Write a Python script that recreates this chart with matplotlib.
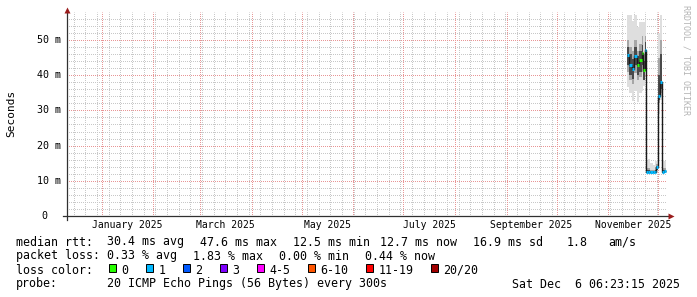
import numpy as np
import pandas as pd
import matplotlib
matplotlib.use("Agg")
import matplotlib.pyplot as plt
import matplotlib.dates as mdates
from matplotlib.patches import Rectangle

W, H = 697, 297

# 360 day window shown by the graph
t_start = pd.Timestamp("2024-12-11 06:23:15")
t_end = pd.Timestamp("2025-12-06 06:23:15")

# samples, values in ms
times = ["2025-11-12 01:00", "2025-11-13 16:00", "2025-11-15 02:00", "2025-11-16 16:00",
         "2025-11-18 02:00", "2025-11-19 16:00", "2025-11-21 02:00", "2025-11-22 02:00",
         "2025-11-22 22:00", "2025-11-23 10:00", "2025-11-24 14:00", "2025-11-26 02:00",
         "2025-11-27 14:00", "2025-11-29 02:00", "2025-11-29 22:00", "2025-12-01 03:00",
         "2025-12-02 08:00", "2025-12-03 13:00", "2025-12-04 18:00"]
t_last = "2025-12-05 12:00"
median_ms = [45.6, 43.0, 41.8, 45.4, 43.0, 44.2, 46.4, 41.6, 47.1, 12.6, 12.5, 12.5,
             12.6, 12.5, 13.8, 34.2, 38.0, 12.6, 12.7]
loss_idx = [1, 1, 1, 1, 0, 0, 0, 0, 1, 1, 1, 1, 1, 1, 1, 1, 1, 1, 1]
outer_lo = [36.6, 34.8, 32.8, 35.6, 32.3, 35.0, 35.6, 37.0, 40.0, 12.2, 12.2, 12.2,
            12.2, 12.2, 12.3, 29.0, 33.0, 12.2, 12.2]
outer_hi = [57.0, 57.0, 55.5, 57.0, 53.6, 55.0, 55.0, 55.0, 56.0, 15.5, 16.3, 15.0,
            14.5, 15.8, 15.5, 52.0, 57.0, 15.8, 15.5]
mid_lo = [41.0, 38.5, 37.5, 40.5, 38.5, 39.5, 41.0, 38.5, 43.0, 12.4, 12.3, 12.3,
          12.4, 12.3, 13.0, 32.0, 35.0, 12.4, 12.4]
mid_hi = [50.0, 48.0, 47.0, 50.0, 47.0, 49.0, 51.0, 46.0, 51.0, 13.5, 13.6, 13.2,
          13.0, 13.8, 14.8, 45.0, 50.0, 13.6, 13.5]
core_lo = [43.0, 40.0, 39.0, 43.0, 40.0, 41.0, 43.0, 38.5, 45.0, 12.4, 12.4, 12.4,
           12.4, 12.4, 13.2, 33.0, 36.0, 12.4, 12.4]
core_hi = [48.0, 46.0, 44.5, 48.0, 45.5, 47.0, 48.5, 44.0, 49.5, 13.0, 13.0, 12.9,
           12.9, 13.0, 14.2, 40.0, 46.0, 13.0, 13.0]

loss_labels = ["0", "1", "2", "3", "4-5", "6-10", "11-19", "20/20"]
loss_colors = ["#26ff00", "#00b8ff", "#0059ff", "#7e00ff", "#ff00ff", "#ff5500",
               "#ff0000", "#a00000"]

y_ticks = [0, 10, 20, 30, 40, 50]
y_tick_labels = ["0", "10 m", "20 m", "30 m", "40 m", "50 m"]
label_months = ["2025-01", "2025-03", "2025-05", "2025-07", "2025-09", "2025-11"]
month_labels = ["January 2025", "March 2025", "May 2025", "July 2025",
                "September 2025", "November 2025"]

rtt_line = ["median rtt:", "30.4 ms avg", "47.6 ms max", "12.5 ms min", "12.7 ms now",
            "16.9 ms sd", "1.8", "am/s"]
loss_line = ["packet loss:", "0.33 % avg", "1.83 % max", "0.00 % min", "0.44 % now"]
probe_line = ["probe:", "20 ICMP Echo Pings (56 Bytes) every 300s"]
stamp = "Sat Dec  6 06:23:15 2025"

# ---------------------------------------------------------------- layout
MONO = "DejaVu Sans Mono"
fig = plt.figure(figsize=(W / 100, H / 100), dpi=100)
fig.patch.set_facecolor("white")


def fx(x):
    return x / W


def fy(y):
    return 1 - y / H


# plot area on whole pixels so the dotted grid lands on the pixel grid
px0, px1, py0, py1 = 67, 667, 216, 12
ax = fig.add_axes([fx(px0), fy(py0), (px1 - px0) / W, (py0 - py1) / H])
ax.set_facecolor("white")
xmin, xmax = mdates.date2num(t_start), mdates.date2num(t_end)
ax.set_xlim(xmin, xmax)
ax.set_ylim(0, 57.95)
for s in ax.spines.values():
    s.set_visible(False)
ax.set_xticks([])
ax.set_yticks([])

# 1px on / 1px off, offset half a pixel because snapping moves the line start
dot = (0.5, (1, 1))
minor_c, major_c = "#c8c8c8", "#e89696"
gkw = dict(lw=0.72, ls=dot, snap=True)
for wk in pd.date_range(t_start, t_end, freq="W-SUN"):
    ax.axvline(mdates.date2num(wk), color=minor_c, zorder=0, **gkw)
for v in range(2, 58, 2):
    if v % 10:
        ax.axhline(v, color=minor_c, zorder=0, **gkw)
for m in pd.date_range("2025-01-01", t_end, freq="MS"):
    ax.axvline(mdates.date2num(m), color=major_c, zorder=0.5, **gkw)
for v in y_ticks[1:]:
    ax.axhline(v, color=major_c, zorder=0.5, **gkw)

# smoke + median
edges = mdates.date2num(pd.to_datetime(times + [t_last]).to_pydatetime())
ax.stairs(outer_hi, edges, baseline=outer_lo, fill=True, color="#dedede", lw=0, zorder=2)
ax.stairs(mid_hi, edges, baseline=mid_lo, fill=True, color="#a6a6a6", lw=0, zorder=2.1)
ax.stairs(core_hi, edges, baseline=core_lo, fill=True, color="#4a4a4a", lw=0, zorder=2.2)
ax.stairs(median_ms, edges, baseline=None, color="#1a1a1a", lw=1.0, zorder=3)
ax.hlines(median_ms, edges[:-1], edges[1:], colors=[loss_colors[i] for i in loss_idx],
          lw=2.2, zorder=4)

# axes lines and arrows
hgt = py0 - py1
ax.plot([-4 / 600, 1.003], [0, 0], transform=ax.transAxes, color="#303030",
        lw=0.9, clip_on=False, zorder=5)
ax.plot([0, 0], [-3.5 / hgt, 1.0], transform=ax.transAxes, color="#303030",
        lw=0.9, clip_on=False, zorder=5)
ax.plot([1.006], [0], marker=">", ms=4.5, color="#9a1c1c", mec="none",
        transform=ax.transAxes, clip_on=False, zorder=6)
ax.plot([0], [1.008], marker="^", ms=4.5, color="#9a1c1c", mec="none",
        transform=ax.transAxes, clip_on=False, zorder=6)

# y labels
ytr = ax.get_yaxis_transform()
for v, lab in zip(y_ticks, y_tick_labels):
    xr = 61 if lab.endswith("m") else 47
    ax.text((xr - px0) / 600, v, lab, transform=ytr, ha="right", va="center",
            family=MONO, fontsize=7.2)

# x labels centred on their month
xtr = ax.get_xaxis_transform()
for m, lab in zip(label_months, month_labels):
    a = pd.Timestamp(m + "-01")
    b = a + pd.offsets.MonthBegin(1)
    c = mdates.date2num(a + (b - a) / 2)
    ax.text(c, -(227.5 - py0) / hgt, lab, transform=xtr, ha="center",
            va="baseline", family=MONO, fontsize=7.0)

fig.text(fx(11), fy(113), "Seconds", rotation=90, ha="center", va="center",
         family=MONO, fontsize=8)
fig.text(fx(686), fy(5), "RRDTOOL / TOBI OETIKER", rotation=270, ha="center", va="top",
         family=MONO, fontsize=6, color="#b4b4b4")

# legend block
LS = 8.4
for t, x in zip(rtt_line, [16, 107.3, 200, 292.7, 380, 473.3, 566.7, 608.3]):
    fig.text(fx(x), fy(245.5), t, family=MONO, fontsize=LS, va="baseline")
for t, x in zip(loss_line, [16, 107.3, 193.3, 279.3, 365]):
    fig.text(fx(x), fy(259.5), t, family=MONO, fontsize=LS, va="baseline")
fig.text(fx(16), fy(273.5), "loss color:", family=MONO, fontsize=LS, va="baseline")
bx = 108.7
for lab, col in zip(loss_labels, loss_colors):
    fig.add_artist(Rectangle((fx(bx), fy(271.7)), 7 / W, 7.4 / H, facecolor=col,
                             edgecolor="black", lw=0.7, transform=fig.transFigure))
    fig.text(fx(bx + 12.5), fy(273.5), lab, family=MONO, fontsize=LS, va="baseline")
    bx += 12.5 + 7 * len(lab) + 17.5
fig.text(fx(16), fy(287.5), probe_line[0], family=MONO, fontsize=LS, va="baseline")
fig.text(fx(107.3), fy(287.5), probe_line[1], family=MONO, fontsize=LS, va="baseline")
fig.text(fx(680.5), fy(287.5), stamp, family=MONO, fontsize=LS, va="baseline", ha="right")

fig.savefig("out.png", dpi=100, facecolor="white")
